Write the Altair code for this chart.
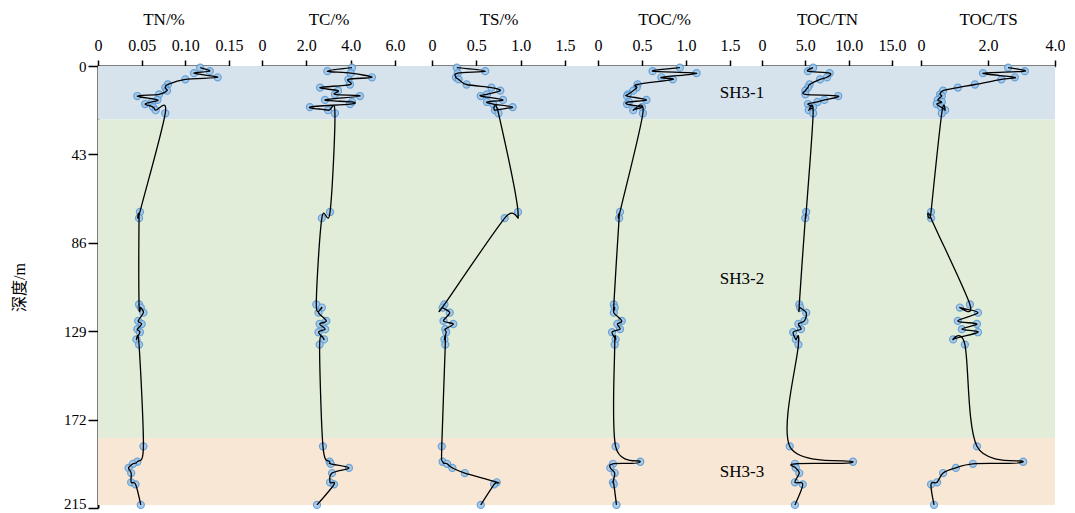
import altair as alt
import pandas as pd

# ---- data ----
depth = [0.8, 2.5, 3.5, 5.5, 6.5, 9, 10.5, 12, 13.8, 14.6, 16.5, 17.5, 18.5, 20, 21.5, 23,
         71, 74,
         116, 117.5, 120, 124, 125.5, 128, 129.5, 133, 135.5,
         185, 192.5, 193.5, 195.5, 198, 202.5, 203.5, 213.5]

tn = [0.117, 0.128, 0.110, 0.137, 0.100, 0.080, 0.077, 0.079, 0.070, 0.045, 0.068, 0.062, 0.054, 0.063, 0.066, 0.077,
      0.048, 0.047,
      0.047, 0.049, 0.052, 0.046, 0.050, 0.045, 0.048, 0.044, 0.047,
      0.052, 0.045, 0.040, 0.035, 0.038, 0.038, 0.043, 0.049]
tc = [4.06, 2.95, 4.0, 4.96, 3.9, 3.97, 2.62, 3.43, 3.29, 4.42, 2.84, 4.06, 3.97, 2.16, 2.98, 3.29,
      3.07, 2.7,
      2.45, 2.7, 2.55, 2.9, 2.6, 2.85, 2.55, 2.8, 2.6,
      2.75, 3.05, 3.1, 3.92, 3.16, 3.07, 3.25, 2.48]
ts = [0.28, 0.60, 0.29, 0.27, 0.30, 0.39, 0.67, 0.77, 0.62, 0.55, 0.80, 0.62, 0.69, 0.91, 0.71, 0.75,
      0.97, 0.82,
      0.14, 0.12, 0.20, 0.13, 0.24, 0.15, 0.16, 0.14, 0.15,
      0.11, 0.12, 0.17, 0.23, 0.37, 0.73, 0.70, 0.55]
toc = [0.93, 0.62, 1.12, 0.72, 0.85, 0.45, 0.44, 0.40, 0.34, 0.33, 0.55, 0.35, 0.33, 0.50, 0.40, 0.51,
       0.25, 0.24,
       0.18, 0.19, 0.18, 0.27, 0.22, 0.25, 0.16, 0.20, 0.19,
       0.20, 0.48, 0.17, 0.14, 0.19, 0.17, 0.18, 0.21]
toc_tn = [5.9, 5.3, 7.8, 7.5, 6.7, 5.5, 5.3, 5.0, 5.0, 8.8, 7.2, 6.4, 5.3, 5.9, 5.4, 5.9,
          5.1, 5.0,
          4.3, 4.4, 5.1, 4.9, 4.2, 4.5, 3.6, 3.9, 4.2,
          3.2, 10.5, 3.8, 3.9, 4.3, 3.8, 4.7, 3.8]
toc_ts = [2.6, 3.1, 1.85, 2.8, 2.4, 1.61, 1.1, 0.66, 0.57, 0.62, 0.5, 0.62, 0.47, 0.60, 0.72, 0.62,
          0.30, 0.30,
          1.46, 1.16, 1.70, 1.10, 1.67, 1.22, 1.70, 0.96, 1.31,
          1.67, 3.05, 1.55, 1.04, 0.66, 0.48, 0.30, 0.39]

series = [tn, tc, ts, toc, toc_tn, toc_ts]
titles = ["TN/%", "TC/%", "TS/%", "TOC/%", "TOC/TN", "TOC/TS"]
x_max = [0.15, 6.0, 1.5, 1.5, 15.0, 4.0]
x_ticks = [[0, 0.05, 0.10, 0.15], [0, 2, 4, 6], [0, 0.5, 1.0, 1.5],
           [0, 0.5, 1.0, 1.5], [0, 5, 10, 15], [0, 2, 4]]
x_fmt = [".2f", ".1f", ".1f", ".1f", ".1f", ".1f"]

band_names = ["SH3-1", "SH3-2", "SH3-3"]
band_start = [0, 26, 181]
band_end = [26, 181, 213.5]
band_colors = ["#d6e2ec", "#e1edd8", "#f8e7d4"]

y_ticks = [0, 43, 86, 129, 172, 215]

# ---- layout ----
axis_px = [131, 133, 133, 132, 130, 134]
panel_w = [164, 170, 166, 164, 159, 134]
H = 442
SERIF = "Liberation Serif"

bands_df = pd.DataFrame({"name": band_names, "start": band_start, "end": band_end})
bands_df["mid"] = (bands_df["start"] + bands_df["end"]) / 2

yscale = alt.Scale(domain=[0, 215], reverse=True, nice=False, zero=False)


def make_panel(i):
    df = pd.DataFrame({"depth": depth, "v": series[i]})
    if i == 0:
        yaxis = alt.Axis(values=y_ticks, title="深度/m", titleFont="Liberation Serif, Noto Sans CJK SC",
                         titleFontSize=16, titleFontWeight="normal", titleColor="black",
                         titlePadding=36, labelFont=SERIF, labelFontSize=15, labelColor="black",
                         labelBaseline={"condition": {"test": f"datum.value == {y_ticks[-1]}",
                                                      "value": "alphabetic"},
                                        "value": "middle"},
                         tickSize=10, tickWidth=1.5, tickColor="black",
                         domainColor="black", domainWidth=2, grid=False)
    else:
        yaxis = None
    bands = alt.Chart(bands_df).mark_rect().encode(
        y=alt.Y("start:Q", scale=yscale, axis=yaxis),
        y2="end:Q",
        color=alt.Color("name:N", scale=alt.Scale(domain=band_names, range=band_colors), legend=None),
    )
    xscale = alt.Scale(domain=[0, x_max[i]], range=[0, axis_px[i]], nice=False, zero=True)
    xaxis = alt.Axis(orient="top", values=x_ticks[i], title=titles[i],
                     labelExpr=f"datum.value == 0 ? '0' : format(datum.value, '{x_fmt[i]}')",
                     titleFont=SERIF, titleFontSize=17, titleFontWeight="normal", titleColor="black",
                     titlePadding=9, labelFont=SERIF, labelFontSize=16, labelColor="black",
                     labelPadding=7, labelOverlap=False, labelFlush=False,
                     tickSize=6, tickWidth=1.5, tickColor="black",
                     domainColor="black", domainWidth=2, grid=False)
    base = alt.Chart(df).encode(
        x=alt.X("v:Q", scale=xscale, axis=xaxis),
        y=alt.Y("depth:Q", scale=yscale),
        order=alt.Order("depth:Q"),
    )
    pts = base.mark_circle(size=50, color="#a3c7e8", stroke="#5b9bd5", strokeWidth=1.2, opacity=0.9)
    line = base.mark_line(color="black", strokeWidth=1.3, interpolate="cardinal")
    layers = [bands, pts, line]
    if i == 4:
        # zone labels sit in the gap between the TOC and TOC/TN panels
        labels = alt.Chart(bands_df).mark_text(font=SERIF, fontSize=17, color="black", align="center",
                                               baseline="middle").encode(
            y=alt.Y("mid:Q", scale=yscale), x=alt.value(-20), text="name:N")
        layers.append(labels)
    return alt.layer(*layers).properties(width=panel_w[i], height=H)


chart = alt.hconcat(*[make_panel(i) for i in range(6)], spacing=0, bounds="flush").properties(
    padding={"left": 3, "top": 2, "right": 0, "bottom": 0}).configure_view(strokeWidth=0)
chart.save("out.html", embed_options={"renderer": "svg", "actions": False})
